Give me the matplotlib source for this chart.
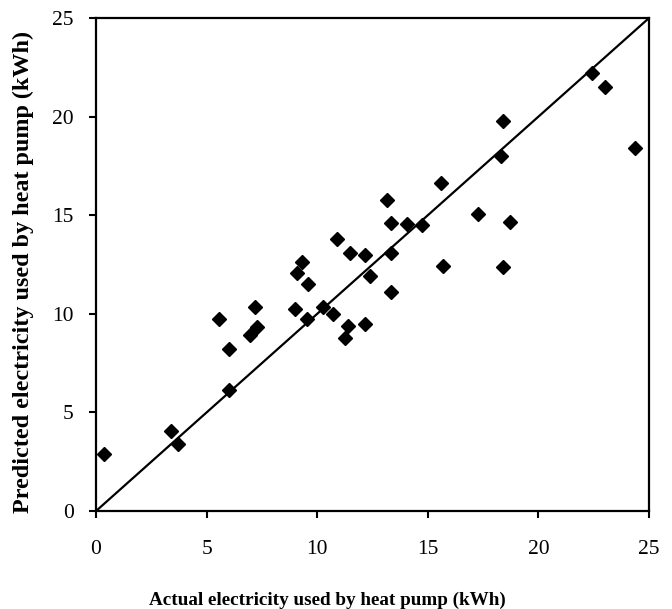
import matplotlib.pyplot as plt

# actual vs predicted electricity (kWh)
actual = [0.36, 3.39, 3.69, 5.58, 6.03, 6.00, 6.98, 7.29, 7.20, 9.01,
          9.10, 9.31, 9.60, 9.52, 10.28, 10.73, 11.41, 11.27, 12.17, 12.39,
          10.91, 11.48, 12.18, 13.17, 13.32, 13.32, 13.32, 14.04, 14.75, 15.61,
          15.70, 17.28, 18.41, 18.29, 18.70, 18.41, 22.42, 23.01, 24.38]
predicted = [2.89, 4.04, 3.41, 9.72, 8.21, 6.14, 8.93, 9.33, 10.34, 10.26,
             12.09, 12.63, 11.53, 9.72, 10.36, 9.97, 9.40, 8.76, 9.48, 11.93,
             13.78, 13.07, 12.98, 15.76, 14.59, 13.08, 11.12, 14.57, 14.50, 16.62,
             12.41, 15.08, 19.78, 18.02, 14.67, 12.37, 22.20, 21.50, 18.39]
ticks = [0, 5, 10, 15, 20, 25]

plt.rcParams['font.family'] = ['Liberation Serif', 'DejaVu Serif']

fig = plt.figure(figsize=(6.72, 6.09), dpi=100)
ax = fig.add_axes([0.1429, 0.1609, 0.8229, 0.8095])

ax.plot([0, 25], [0, 25], color='black', lw=1.6)
ax.plot(actual, predicted, linestyle='none', marker='D', markersize=6.8,
        color='black')

ax.set_xlim(0, 25)
ax.set_ylim(0, 25)
ax.set_xticks(ticks)
ax.set_yticks(ticks)
ax.tick_params(direction='out', length=5, width=1.5, labelsize=15.5)
ax.tick_params(axis='x', pad=16)
ax.tick_params(axis='y', pad=11)
for s in ax.spines.values():
    s.set_linewidth(1.6)

ax.set_xlabel('Actual electricity used by heat pump (kWh)',
              fontsize=13.8, fontweight='bold')
ax.xaxis.set_label_coords(0.418, -0.163)
ax.set_ylabel('Predicted electricity used by heat pump (kWh)',
              fontsize=17.4, fontweight='bold')
ax.yaxis.set_label_coords(-0.112, 0.484)

plt.savefig('out.png', dpi=100)
